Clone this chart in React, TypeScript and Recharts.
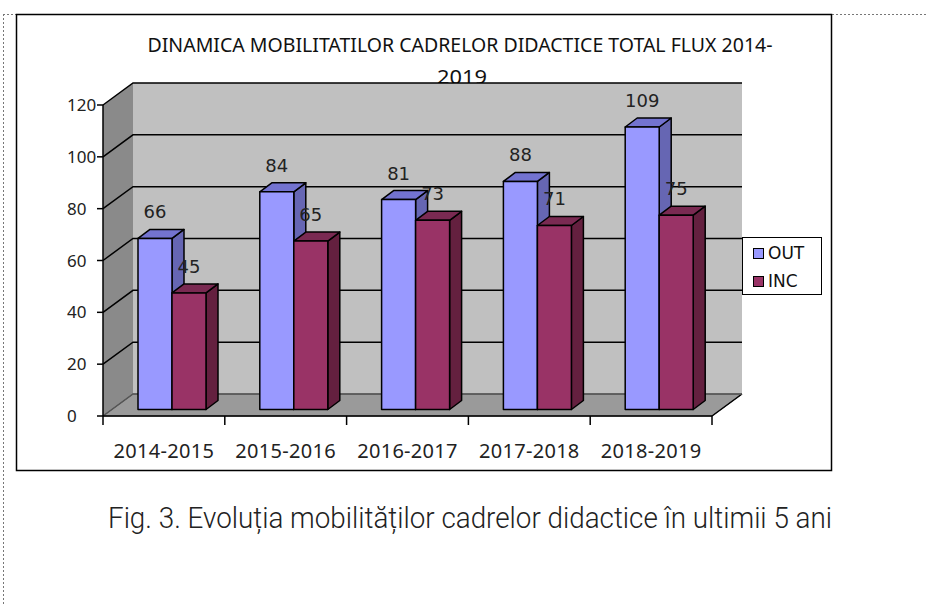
import React from 'react';
import { BarChart, Bar, XAxis, YAxis, ReferenceArea, ReferenceLine, LabelList, Legend } from 'recharts';

const categories = ['2014-2015', '2015-2016', '2016-2017', '2017-2018', '2018-2019'];
const outValues = [66, 84, 81, 88, 109];
const incValues = [45, 65, 73, 71, 75];
const yTicks = [0, 20, 40, 60, 80, 100, 120];
const seriesOrder = ['OUT', 'INC'];
const titleLines = ['DINAMICA MOBILITATILOR CADRELOR DIDACTICE TOTAL FLUX 2014-', '2019'];
const caption = 'Fig. 3. Evoluția mobilităților cadrelor didactice în ultimii 5 ani';

const data = categories.map((c, i) => ({ cat: c, OUT: outValues[i], INC: incValues[i] }));

const DX = 30;
const DY = -22;
const BDX = 12;
const BDY = -9;
const BSX = 8;
const BSY = -6.5;
const FONT = '"DejaVu Sans", Verdana, sans-serif';
const FONT2 = '"Noto Sans", "Open Sans", sans-serif';

const make3DBar = (front: string, top: string, side: string) => (props: any) => {
  const { x, y, width, height } = props;
  if (x == null || y == null || !width || height == null) return <g />;
  const fx = x + BSX;
  const fy = y + BSY;
  const w = width;
  const h = height;
  return (
    <g stroke="#000" strokeWidth={1.5} strokeLinejoin="round">
      <polygon points={`${fx + w},${fy} ${fx + w + BDX},${fy + BDY} ${fx + w + BDX},${fy + h + BDY} ${fx + w},${fy + h}`} fill={side} />
      <polygon points={`${fx},${fy} ${fx + BDX},${fy + BDY} ${fx + w + BDX},${fy + BDY} ${fx + w},${fy}`} fill={top} />
      <rect x={fx} y={fy} width={w} height={h} fill={front} />
    </g>
  );
};

const outShape = make3DBar('#9999FF', '#7373D0', '#6666B3');
const incShape = make3DBar('#993366', '#7A2A52', '#64203F');

const WallShape = (props: any) => {
  const { x, y, width, height } = props;
  const bx = x + DX;
  const by = y + DY;
  return (
    <g>
      <polygon points={`${x},${y + height} ${x},${y} ${bx},${by} ${bx},${by + height}`} fill="#8a8a8a" />
      <rect x={bx} y={by} width={width} height={height} fill="#c0c0c0" />
      <polygon points={`${x},${y + height} ${x + width},${y + height} ${bx + width},${by + height} ${bx},${by + height}`} fill="#9a9a9a" stroke="#555" strokeWidth={1} />
      <line x1={x + width} y1={y + height} x2={bx + width} y2={by + height} stroke="#000" strokeWidth={1.5} />
    </g>
  );
};

const GridShape = (props: any) => {
  const { x1, y1, x2, stroke } = props;
  if (x1 == null || y1 == null) return <g />;
  return (
    <path
      d={`M${x1},${y1} L${x1 + DX},${y1 + DY} L${x2 + DX},${y1 + DY}`}
      fill="none"
      stroke={stroke || '#000'}
      strokeWidth={1.5}
    />
  );
};

const YTick = (props: any) => {
  const { x, y, payload } = props;
  return (
    <text x={x - 28} y={y} dy="0.36em" textAnchor="start" fontSize={17} fill="#222" fontFamily={FONT2}>
      {payload.value}
    </text>
  );
};

const XTick = (props: any) => {
  const { x, y, payload, index, visibleTicksCount, width } = props;
  const half = payload && payload.offset ? payload.offset : width / visibleTicksCount / 2;
  const last = index === visibleTicksCount - 1;
  return (
    <g>
      <line x1={x - half} y1={y} x2={x - half} y2={y + 9} stroke="#000" strokeWidth={1.5} />
      {last ? <line x1={x + half} y1={y} x2={x + half} y2={y + 9} stroke="#000" strokeWidth={1.5} /> : null}
      <text x={x} y={y + 42} textAnchor="middle" fontSize={20} fill="#222" fontFamily={FONT2} letterSpacing={0.3}>
        {payload.value}
      </text>
    </g>
  );
};

const ValueLabel = (props: any) => {
  const { x, y, width, value } = props;
  return (
    <text
      x={Number(x) + Number(width) / 2 + BSX}
      y={Number(y) + BSY - 20}
      textAnchor="middle"
      fontSize={18}
      fill="#222"
      fontFamily={FONT}
    >
      {value}
    </text>
  );
};

const LegendBox = (props: any) => {
  const payload = [...(props.payload || [])].sort(
    (a: any, b: any) => seriesOrder.indexOf(a.value) - seriesOrder.indexOf(b.value)
  );
  return (
    <div
      style={{
        width: 80,
        height: 58,
        boxSizing: 'border-box',
        border: '1px solid #000',
        background: '#fff',
        paddingTop: 1,
      }}
    >
      {payload.map((p: any) => (
        <div key={p.value} style={{ display: 'flex', alignItems: 'center', height: 28, paddingLeft: 10 }}>
          <span
            style={{
              display: 'inline-block',
              width: 11,
              height: 11,
              boxSizing: 'border-box',
              border: '1.5px solid #000',
              background: p.color,
              marginRight: 4,
            }}
          />
          <span style={{ fontSize: 17, fontFamily: FONT, color: '#111', lineHeight: '28px' }}>{p.value}</span>
        </div>
      ))}
    </div>
  );
};

export default function App() {
  return (
    <div style={{ position: 'absolute', left: 0, top: 0, width: 927, height: 605, background: '#fff' }}>
      <svg width={927} height={605} style={{ position: 'absolute', left: 0, top: 0 }}>
        <text x={460} y={52} textAnchor="middle" fontSize={19} fill="#111" fontFamily={FONT2} textLength={625} lengthAdjust="spacingAndGlyphs">
          {titleLines[0]}
        </text>
        <text x={462} y={84} textAnchor="middle" fontSize={19} fill="#111" fontFamily={FONT2} textLength={50} lengthAdjust="spacingAndGlyphs">
          {titleLines[1]}
        </text>
        <text x={470} y={528} textAnchor="middle" fontSize={30} fontWeight={300} fill="#222" fontFamily='Roboto, "Noto Sans", sans-serif' textLength={724} lengthAdjust="spacingAndGlyphs">
          {caption}
        </text>
      </svg>
      <div style={{ position: 'absolute', left: 0, top: 0 }}>
        <BarChart
          width={927}
          height={605}
          data={data}
          margin={{ top: 105, right: 215, bottom: 149, left: 43 }}
          barGap={0}
        >
          <ReferenceArea y1={0} y2={120} shape={WallShape} zIndex={-200} ifOverflow="visible" />
          {yTicks.map((t) => (
            <ReferenceLine key={t} y={t} shape={GridShape} stroke={t === 0 ? '#555' : '#000'} zIndex={-150} ifOverflow="visible" />
          ))}
          <XAxis
            dataKey="cat"
            height={40}
            axisLine={{ stroke: '#000', strokeWidth: 1.5 }}
            tickLine={false}
            tickSize={0}
            tickMargin={0}
            tick={XTick}
            interval={0}
          />
          <YAxis
            width={60}
            domain={[0, 120]}
            ticks={yTicks}
            axisLine={{ stroke: '#000', strokeWidth: 1.5 }}
            tickLine={{ stroke: '#000', strokeWidth: 1.5 }}
            tickSize={6}
            tickMargin={2}
            tick={YTick}
            interval={0}
          />
          <Legend
            layout="horizontal"
            verticalAlign="middle"
            align="center"
            width={80}
            height={58}
            wrapperStyle={{ left: 742, top: 237, width: 80, height: 58 }}
            content={LegendBox}
          />
          <Bar dataKey="OUT" name="OUT" fill="#9999FF" barSize={34} isAnimationActive={false} shape={outShape}>
            <LabelList dataKey="OUT" content={ValueLabel} />
          </Bar>
          <Bar dataKey="INC" name="INC" fill="#993366" barSize={34} isAnimationActive={false} shape={incShape}>
            <LabelList dataKey="INC" content={ValueLabel} />
          </Bar>
        </BarChart>
      </div>
      <svg width={927} height={605} style={{ position: 'absolute', left: 0, top: 0, pointerEvents: 'none' }}>
        <line x1={3.5} y1={14} x2={3.5} y2={605} stroke="#777" strokeWidth={1} strokeDasharray="2,2" />
        <line x1={3} y1={14.5} x2={16} y2={14.5} stroke="#777" strokeWidth={1} strokeDasharray="2,2" />
        <line x1={832} y1={14.5} x2={927} y2={14.5} stroke="#777" strokeWidth={1} strokeDasharray="2,2" />
        <rect x={16.5} y={14.5} width={815} height={456} fill="none" stroke="#000" strokeWidth={1.5} />
      </svg>
    </div>
  );
}
